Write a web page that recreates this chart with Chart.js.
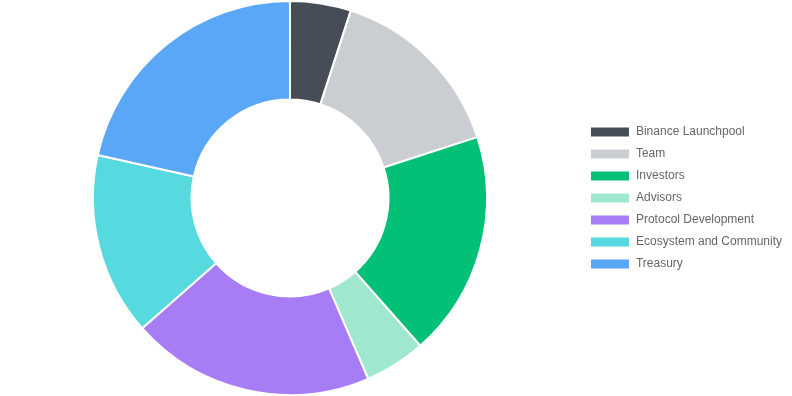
<!DOCTYPE html>
<html>
<head>
<meta charset="utf-8">
<script src="https://cdn.jsdelivr.net/npm/chart.js@4/dist/chart.umd.min.js"></script>
<style>
  html, body { margin: 0; padding: 0; background: #fff; }
  #wrap { width: 792px; height: 396px; }
</style>
</head>
<body>
<div id="wrap"><canvas id="myChart"></canvas></div>
<script>
// token allocation (percent)
const labels = [
  "Binance Launchpool",
  "Team",
  "Investors",
  "Advisors",
  "Protocol Development",
  "Ecosystem and Community",
  "Treasury"
];
const shares = [5, 15, 18.5, 5, 20, 15, 21.5];
const colors = ["#474D57", "#CACDD2", "#02C076", "#9FE8CD", "#A67DF4", "#56DADF", "#5AA6F7"];

const data = {
  labels: labels,
  datasets: [
    {
      data: shares,
      backgroundColor: colors,
      borderColor: "#fff",
      borderWidth: 2,
    },
  ],
};

const config = {
  type: "doughnut",
  data: data,
  options: {
    responsive: true,
    maintainAspectRatio: false,
    animation: false,
    cutout: "50%",
    layout: { padding: 0 },
    plugins: {
      tooltip: { enabled: false },
      legend: {
        position: "right",
        labels: {
          boxWidth: 40,
          boxHeight: 11,
          padding: 10,
          color: "#666",
          font: { family: "'Liberation Sans', Arial, Helvetica, sans-serif", size: 12 },
        },
      },
    },
  },
};

const context = document.getElementById("myChart").getContext("2d");
const chart = new Chart(context, config);
</script>
</body>
</html>
